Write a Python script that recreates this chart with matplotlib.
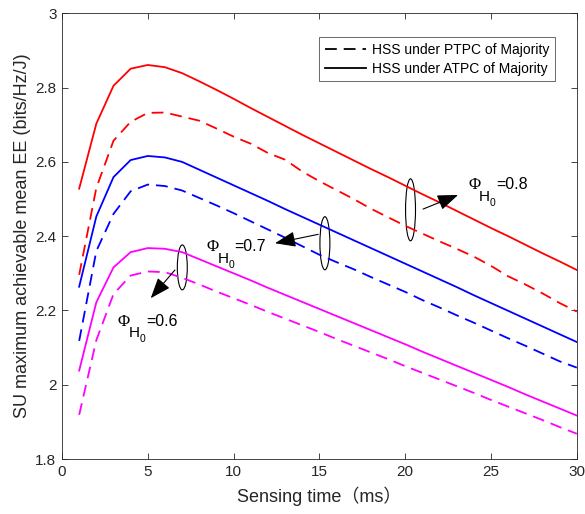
import numpy as np
import matplotlib
matplotlib.use("Agg")
import matplotlib.pyplot as plt
from matplotlib.patches import Ellipse

plt.rcParams['font.family'] = ['Liberation Sans', 'Noto Sans CJK SC', 'DejaVu Sans']
plt.rcParams['lines.scale_dashes'] = False

# sensing time (ms)
t = np.arange(1, 31)

# PTPC (dashed) and ATPC (solid) curves for Phi_H0 = 0.8, 0.7, 0.6
ptpc_08 = [2.296, 2.530, 2.657, 2.708, 2.732, 2.733, 2.722, 2.711, 2.690, 2.668,
           2.649, 2.624, 2.606, 2.574, 2.548, 2.524, 2.500, 2.474, 2.451, 2.428,
           2.407, 2.386, 2.366, 2.345, 2.320, 2.292, 2.270, 2.246, 2.220, 2.197]
atpc_08 = [2.528, 2.703, 2.805, 2.851, 2.861, 2.855, 2.839, 2.817, 2.794, 2.770,
           2.745, 2.721, 2.697, 2.673, 2.650, 2.627, 2.604, 2.581, 2.559, 2.536,
           2.513, 2.491, 2.468, 2.445, 2.422, 2.400, 2.377, 2.354, 2.332, 2.309]
ptpc_07 = [2.118, 2.360, 2.460, 2.521, 2.539, 2.535, 2.523, 2.503, 2.483, 2.462,
           2.440, 2.418, 2.396, 2.373, 2.350, 2.330, 2.311, 2.290, 2.270, 2.250,
           2.228, 2.208, 2.187, 2.167, 2.146, 2.125, 2.105, 2.084, 2.063, 2.046]
atpc_07 = [2.264, 2.453, 2.559, 2.605, 2.616, 2.612, 2.600, 2.579, 2.558, 2.537,
           2.516, 2.495, 2.473, 2.452, 2.431, 2.410, 2.389, 2.368, 2.347, 2.326,
           2.305, 2.284, 2.263, 2.241, 2.220, 2.199, 2.178, 2.157, 2.136, 2.115]
ptpc_06 = [1.919, 2.120, 2.244, 2.294, 2.305, 2.303, 2.288, 2.270, 2.251, 2.233,
           2.215, 2.196, 2.178, 2.160, 2.142, 2.123, 2.105, 2.087, 2.069, 2.050,
           2.032, 2.014, 1.996, 1.978, 1.959, 1.941, 1.923, 1.905, 1.886, 1.868]
atpc_06 = [2.038, 2.222, 2.316, 2.357, 2.368, 2.366, 2.357, 2.338, 2.319, 2.300,
           2.281, 2.261, 2.242, 2.223, 2.204, 2.185, 2.166, 2.147, 2.128, 2.109,
           2.089, 2.070, 2.051, 2.032, 2.013, 1.994, 1.974, 1.955, 1.936, 1.917]

phi_vals = ['0.8', '0.7', '0.6']

dash = (8.5, 5)
lw = 1.3

fig = plt.figure(figsize=(5.85, 5.14), dpi=100)
ax = fig.add_axes([0.106, 0.107, 0.880, 0.867])

ax.plot(t, ptpc_08, color='red', lw=lw, dashes=dash)
ax.plot(t, atpc_08, color='red', lw=lw)
ax.plot(t, ptpc_07, color='blue', lw=lw, dashes=dash)
ax.plot(t, atpc_07, color='blue', lw=lw)
ax.plot(t, ptpc_06, color='magenta', lw=lw, dashes=dash)
ax.plot(t, atpc_06, color='magenta', lw=lw)

# black proxy lines for the legend
h1, = ax.plot([], [], color='k', lw=lw, dashes=dash)
h2, = ax.plot([], [], color='k', lw=lw)
leg = ax.legend([h1, h2], ['HSS under PTPC of Majority', 'HSS under ATPC of Majority'],
                loc='upper right', bbox_to_anchor=(0.957, 0.946), fancybox=False,
                edgecolor='0.15', fontsize=10, handlelength=3.0, borderpad=0.4,
                labelspacing=0.35, handletextpad=0.4, borderaxespad=0)
leg.get_frame().set_linewidth(0.6)

ax.set_xlim(0, 30)
ax.set_ylim(1.8, 3)
ax.set_xticks([0, 5, 10, 15, 20, 25, 30])
ax.set_yticks([1.8, 2, 2.2, 2.4, 2.6, 2.8, 3])
ax.set_yticklabels(['1.8', '2', '2.2', '2.4', '2.6', '2.8', '3'])
ax.tick_params(direction='in', top=True, right=True, length=4, width=0.6,
               labelsize=11, colors='0.15', pad=4)
for s in ax.spines.values():
    s.set_linewidth(0.6)
    s.set_color('0.15')

ax.set_xlabel('Sensing time（ms）', fontsize=13, color='0.15', labelpad=6)
ax.set_ylabel('SU maximum achievable mean EE (bits/Hz/J)', fontsize=13, color='0.15', labelpad=3)

# ellipses, arrows and labels
ell = [(20.31, 2.471, 0.167), (15.32, 2.381, 0.143), (7.01, 2.316, 0.121)]
for cx, cy, hh in ell:
    ax.add_patch(Ellipse((cx, cy), 0.58, hh, fill=False, edgecolor='k', lw=0.8))

arr = dict(arrowstyle='-|>,head_length=0.85,head_width=0.32', color='k', lw=0.8,
           shrinkA=0, shrinkB=0, mutation_scale=15)
ax.annotate('', xy=(23.08, 2.511), xytext=(21.04, 2.473), arrowprops=arr)
ax.annotate('', xy=(12.41, 2.381), xytext=(14.93, 2.405), arrowprops=arr)
ax.annotate('', xy=(5.17, 2.233), xytext=(6.58, 2.309), arrowprops=arr)


def phi_label(x, y, val):
    # MATLAB-like Phi_{H_0}: big subscript H well below the baseline
    kw = dict(xy=(x, y), textcoords='offset points', ha='left', va='baseline')
    ax.annotate('Φ', xytext=(0, 0), fontsize=12, family='Liberation Serif', **kw)
    ax.annotate('H', xytext=(7.9, -8.4), fontsize=11, **kw)
    ax.annotate('0', xytext=(15.8, -12), fontsize=7.5, **kw)
    ax.annotate('=' + val, xytext=(20.2, 0), fontsize=11.5, **kw)


phi_label(23.66, 2.527, phi_vals[0])
phi_label(8.43, 2.359, phi_vals[1])
phi_label(3.26, 2.159, phi_vals[2])

fig.savefig('out.png', dpi=100)
